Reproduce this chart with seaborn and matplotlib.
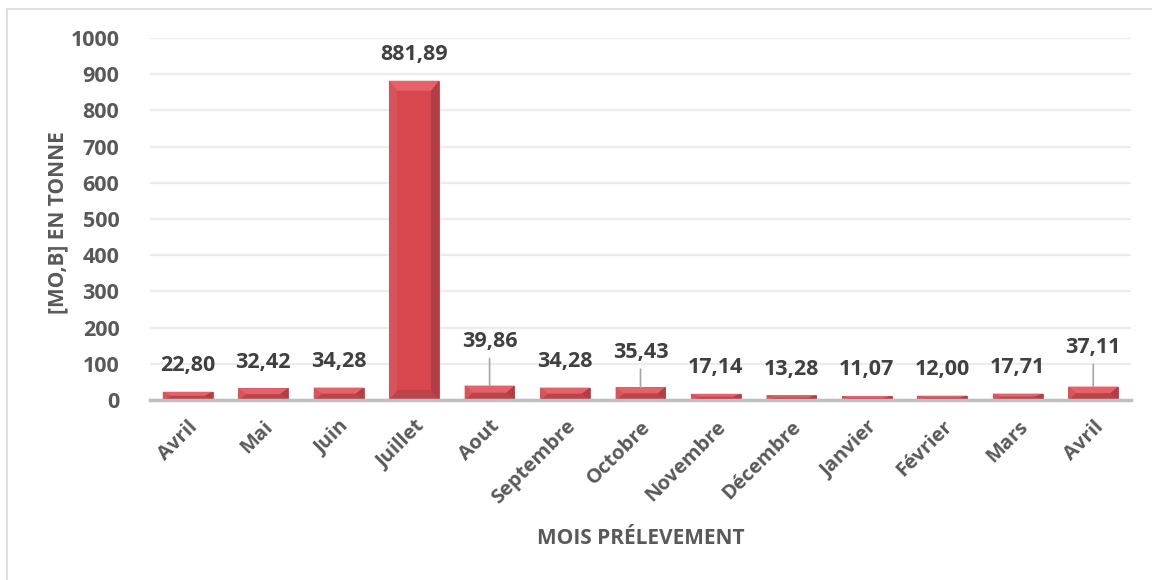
import matplotlib
matplotlib.use("Agg")
import matplotlib.pyplot as plt
from matplotlib.patches import Polygon
from matplotlib.lines import Line2D
import seaborn as sns
import pandas as pd

# Monthly values (tonnes)
months = ["Avril", "Mai", "Juin", "Juillet", "Aout", "Septembre", "Octobre",
          "Novembre", "Décembre", "Janvier", "Février", "Mars", "Avril"]
values = [22.80, 32.42, 34.28, 881.89, 39.86, 34.28, 35.43,
          17.14, 13.28, 11.07, 12.00, 17.71, 37.11]
# labels lifted above their bar with a leader line (offset in pixels)
lifted = {4: 44, 6: 35, 12: 39}

yticks = [0, 100, 200, 300, 400, 500, 600, 700, 800, 900, 1000]

sns.set_theme(style="white")
plt.rcParams["font.family"] = ["Open Sans", "DejaVu Sans"]

FACE = "#d8464e"
TICK_GREY = "#595959"
LABEL_GREY = "#404040"

fig = plt.figure(figsize=(11.52, 5.8), dpi=100)
ax = fig.add_axes([150 / 1152, 1 - 400 / 580, 981 / 1152, 362 / 580])

df = pd.DataFrame({"idx": range(len(months)), "val": values})
sns.barplot(data=df, x="idx", y="val", color=FACE, saturation=1,
            width=0.66, ax=ax, zorder=3, edgecolor="#c0444b", linewidth=0.6)

ax.set_ylim(0, 1000)
ax.set_yticks(yticks)
ax.set_yticklabels([str(t) for t in yticks])
ax.set_xticks(range(len(months)))
ax.set_xticklabels(months, rotation=45, ha="right", rotation_mode="anchor")
ax.set_xlim(-0.5, len(months) - 0.5)

# horizontal grid
ax.yaxis.grid(True, color="#ececec", linewidth=1.6, zorder=0)
ax.xaxis.grid(False)
for side in ["left", "right", "top"]:
    ax.spines[side].set_visible(False)
ax.spines["bottom"].set_color("#bfbfbf")
ax.spines["bottom"].set_linewidth(2.5)
ax.spines["bottom"].set_zorder(5)

ax.tick_params(axis="y", length=0, pad=22, labelsize=15.5, labelcolor=TICK_GREY)
ax.tick_params(axis="x", length=0, pad=12, labelsize=14.5, labelcolor=TICK_GREY)
for lab in ax.get_xticklabels() + ax.get_yticklabels():
    lab.set_fontweight("bold")

ax.set_ylabel("[MO,B] EN TONNE", fontsize=15, fontweight="bold", color=TICK_GREY)
ax.yaxis.set_label_coords(-0.083, 0.49)
ax.set_xlabel("MOIS PRÉLEVEMENT", fontsize=15, fontweight="bold",
              color=TICK_GREY, labelpad=14)

# bevel shading on each bar, in pixel space converted back to data
to_disp = ax.transData
to_data = ax.transData.inverted()
for i, p in enumerate(ax.patches):
    x0, w, h = p.get_x(), p.get_width(), p.get_height()
    (px0, py0) = to_disp.transform((x0, 0))
    (px1, py1) = to_disp.transform((x0 + w, h))
    bev = min(10.0, (py1 - py0) / 2.0)
    bx = min(8.0, (px1 - px0) / 2.0)

    def D(pts):
        return [tuple(to_data.transform(pt)) for pt in pts]

    top = D([(px0, py1), (px1, py1), (px1 - bx, py1 - bev), (px0 + bx, py1 - bev)])
    bot = D([(px0, py0), (px1, py0), (px1 - bx, py0 + bev), (px0 + bx, py0 + bev)])
    right = D([(px1, py0), (px1, py1), (px1 - bx, py1 - bev), (px1 - bx, py0 + bev)])
    left = D([(px0, py0), (px0, py1), (px0 + bx, py1 - bev), (px0 + bx, py0 + bev)])
    ax.add_patch(Polygon(top, closed=True, facecolor="#e5626a", edgecolor="none", zorder=4))
    ax.add_patch(Polygon(bot, closed=True, facecolor="#b9454b", edgecolor="none", zorder=4))
    ax.add_patch(Polygon(right, closed=True, facecolor="#b03e45", edgecolor="none", zorder=4))
    ax.add_patch(Polygon(left, closed=True, facecolor="#d9535a", edgecolor="none", zorder=4))

# value labels
for i, v in enumerate(values):
    txt = f"{v:.2f}".replace(".", ",")
    off = lifted.get(i, 26)
    ax.annotate(txt, xy=(i, v), xytext=(0, off), textcoords="offset pixels",
                ha="center", va="center", fontsize=15.5, fontweight="bold",
                color=LABEL_GREY, zorder=6)
    if i in lifted:
        ax.annotate("", xy=(i, v), xytext=(0, off - 17), textcoords="offset pixels",
                    arrowprops=dict(arrowstyle="-", color="#a6a6a6", lw=1.2,
                                    shrinkA=0, shrinkB=0), zorder=6)

# chart-area frame (top and left edges)
fig.add_artist(Line2D([7 / 1152, 1.0], [1 - 9 / 580, 1 - 9 / 580],
                      transform=fig.transFigure, color="#d9d9d9", lw=1.2))
fig.add_artist(Line2D([7 / 1152, 7 / 1152], [1 - 9 / 580, 0.0],
                      transform=fig.transFigure, color="#d9d9d9", lw=1.2))

fig.savefig("out.png", dpi=100, facecolor="white")
